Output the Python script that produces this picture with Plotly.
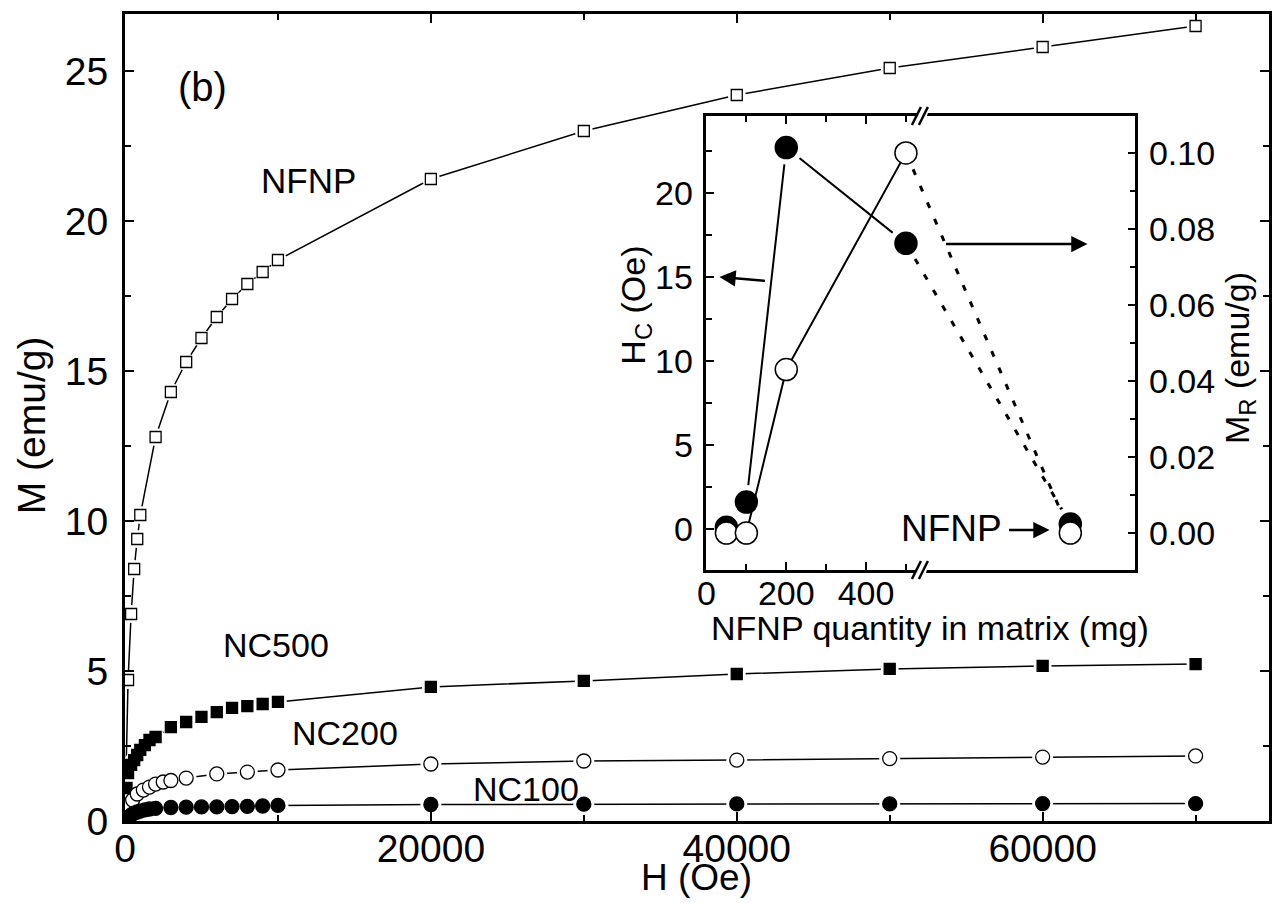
import plotly.graph_objects as go

# ---------------- data ----------------
nfnp_H = [0, 200, 400, 600, 800, 1000, 2000, 3000, 4000, 5000, 6000, 7000, 8000, 9000, 10000,
          20000, 30000, 40000, 50000, 60000, 70000]
nfnp_M = [0, 4.7, 6.9, 8.4, 9.4, 10.2, 12.8, 14.3, 15.3, 16.1, 16.8, 17.4, 17.9, 18.3, 18.7,
          21.4, 23.0, 24.2, 25.1, 25.8, 26.5]

nc500_H = [0, 100, 200, 400, 600, 800, 1000, 1300, 1600, 2000, 3000, 4000, 5000, 6000, 7000,
           8000, 9000, 10000, 20000, 30000, 40000, 50000, 60000, 70000]
nc500_M = [0, 1.1, 1.6, 1.87, 2.03, 2.2, 2.37, 2.53, 2.7, 2.8, 3.13, 3.3, 3.47, 3.63, 3.77,
           3.83, 3.9, 3.97, 4.47, 4.67, 4.9, 5.07, 5.17, 5.23]

nc200_H = [0, 200, 500, 800, 1200, 1600, 2000, 2500, 3000, 4000, 6000, 8000, 10000,
           20000, 30000, 40000, 50000, 60000, 70000]
nc200_M = [0, 0.55, 0.7, 0.9, 1.03, 1.13, 1.23, 1.3, 1.35, 1.43, 1.57, 1.63, 1.7,
           1.9, 2.0, 2.03, 2.08, 2.13, 2.17]

nc100_H = [0, 200, 400, 600, 800, 1000, 1300, 1600, 2000, 3000, 4000, 5000, 6000, 7000, 8000,
           9000, 10000, 20000, 30000, 40000, 50000, 60000, 70000]
nc100_M = [0, 0.12, 0.2, 0.26, 0.3, 0.33, 0.37, 0.4, 0.42, 0.45, 0.46, 0.47, 0.47, 0.48, 0.49,
           0.5, 0.52, 0.55, 0.56, 0.57, 0.57, 0.58, 0.58]

# inset: coercivity and remanence vs NFNP quantity in matrix (mg)
inset_qty = [50, 100, 200, 500]
nfnp_axis_pos = 912          # where the pure NFNP sample sits beyond the axis break
inset_hc = [0.1, 1.6, 22.7, 17.0, 0.3]      # Oe  (last value: NFNP)
inset_mr = [0.0, 0.0, 0.043, 0.100, 0.0]    # emu/g (last value: NFNP)

main_xticks = [0, 20000, 40000, 60000]
inset_xticks = [0, 200, 400]

# ---------------- geometry helpers ----------------
W, H = 1277, 903
L, R, T, B = 125, 5, 14, 82
PW, PH = W - L - R, H - T - B


def px(x):
    return (x - L) / PW


def py(y):
    return (H - B - y) / PH


FONT = "Liberation Sans, Arial, Helvetica, sans-serif"
fig = go.Figure()

main_series = [
    (nfnp_H, nfnp_M, "square-open", 11, "NFNP"),
    (nc500_H, nc500_M, "square", 11, "NC500"),
    (nc200_H, nc200_M, "circle-open", 14, "NC200"),
    (nc100_H, nc100_M, "circle", 14, "NC100"),
]

# lines
for hx, my, sym, sz, name in main_series:
    fig.add_trace(go.Scatter(x=hx, y=my, mode="lines", line=dict(color="black", width=1.5),
                             hoverinfo="skip", name=name))
# white halos (gap between line and marker)
for hx, my, sym, sz, name in main_series:
    fig.add_trace(go.Scatter(x=hx, y=my, mode="markers",
                             marker=dict(symbol="circle", size=sz + 7, color="white",
                                         line=dict(width=0)),
                             hoverinfo="skip"))
# markers
for hx, my, sym, sz, name in main_series:
    fig.add_trace(go.Scatter(x=hx, y=my, mode="markers", name=name,
                             marker=dict(symbol=sym.replace("-open", ""), size=sz,
                                         color="white" if "open" in sym else "black",
                                         line=dict(color="black", width=1.3))))

# ---------------- inset ----------------
inset_x = inset_qty + [nfnp_axis_pos]
n = len(inset_qty)

# H_C (filled circles, left axis)
fig.add_trace(go.Scatter(x=inset_x[:n], y=inset_hc[:n], mode="lines", xaxis="x2", yaxis="y2",
                         line=dict(color="black", width=2)))
fig.add_trace(go.Scatter(x=inset_x[n - 1:], y=inset_hc[n - 1:], mode="lines", xaxis="x2", yaxis="y2",
                         line=dict(color="black", width=3, dash="6px,12px")))
fig.add_trace(go.Scatter(x=inset_x, y=inset_hc, mode="markers", xaxis="x2", yaxis="y2",
                         marker=dict(symbol="circle", size=34, color="white", line=dict(width=0)),
                         hoverinfo="skip"))
fig.add_trace(go.Scatter(x=inset_x, y=inset_hc, mode="markers", xaxis="x2", yaxis="y2",
                         marker=dict(symbol="circle", size=22, color="black",
                                     line=dict(color="black", width=1.5))))

# M_R (open circles, right axis)
fig.add_trace(go.Scatter(x=inset_x[:n], y=inset_mr[:n], mode="lines", xaxis="x2", yaxis="y3",
                         line=dict(color="black", width=2)))
fig.add_trace(go.Scatter(x=inset_x[n - 1:], y=inset_mr[n - 1:], mode="lines", xaxis="x2", yaxis="y3",
                         line=dict(color="black", width=3, dash="6px,12px")))
fig.add_trace(go.Scatter(x=inset_x, y=inset_mr, mode="markers", xaxis="x2", yaxis="y3",
                         marker=dict(symbol="circle", size=22, color="white",
                                     line=dict(color="black", width=1.5))))

axis_common = dict(showgrid=False, zeroline=False, showline=True, linecolor="black",
                   ticks="inside", tickcolor="black")

fig.update_layout(
    width=W, height=H,
    margin=dict(l=L, r=R, t=T, b=B),
    paper_bgcolor="white", plot_bgcolor="white",
    showlegend=False,
    font=dict(family=FONT, color="black"),
    xaxis=dict(**axis_common, range=[0, 74800], tickvals=main_xticks, tickformat="d",
               ticklen=9, tickwidth=2, linewidth=3, mirror="ticks",
               minor=dict(dtick=10000, tick0=0, ticks="inside", ticklen=6, tickwidth=2),
               tickfont=dict(size=39, family=FONT), ticklabelstandoff=-9),
    yaxis=dict(**axis_common, range=[0, 26.9], dtick=5, tick0=0,
               ticklen=9, tickwidth=2, linewidth=3, mirror="ticks",
               minor=dict(dtick=2.5, tick0=0, ticks="inside", ticklen=6, tickwidth=2),
               tickfont=dict(size=39, family=FONT), ticklabelstandoff=6),
    xaxis2=dict(**axis_common, domain=[px(708), px(1138)], anchor="y2", range=[0, 1075],
                tickvals=inset_xticks, ticklen=8, tickwidth=2, linewidth=2.5, mirror="ticks",
                minor=dict(tickvals=[100, 300, 500], ticks="inside", ticklen=6, tickwidth=2),
                tickfont=dict(size=34, family=FONT), ticklabelstandoff=-9),
    yaxis2=dict(**axis_common, domain=[py(570), py(116)], anchor="x2", range=[-2.44, 24.58],
                dtick=5, tick0=0, ticklen=8, tickwidth=2, linewidth=2.5,
                minor=dict(dtick=2.5, tick0=0, ticks="inside", ticklen=6, tickwidth=2),
                tickfont=dict(size=34, family=FONT), ticklabelstandoff=4),
    yaxis3=dict(**axis_common, overlaying="y2", side="right", anchor="x2",
                range=[-0.0097, 0.1097], dtick=0.02, tick0=0, tickformat=".2f",
                ticklen=8, tickwidth=2, linewidth=2.5,
                minor=dict(dtick=0.01, tick0=0, ticks="inside", ticklen=6, tickwidth=2),
                tickfont=dict(size=34, family=FONT), ticklabelstandoff=4),
)

# ---------------- texts ----------------
def label(text, x, y, size, angle=0):
    fig.add_annotation(text=text, x=px(x), y=py(y), xref="paper", yref="paper",
                       showarrow=False, textangle=angle, xanchor="center", yanchor="middle",
                       font=dict(size=size, family=FONT, color="black"))


label("H (Oe)", 698, 878, 37)
label("M (emu/g)", 31, 425, 39, -90)
label("(b)", 203, 87, 40)
label("NFNP", 309, 180, 35)
label("NC500", 276, 645, 34)
label("NC200", 346, 733, 34)
label("NC100", 527, 789, 34)
label("NFNP quantity in matrix (mg)", 932, 628, 34)
label("H<sub>C</sub> (Oe)", 636, 305, 34, -90)
label("M<sub>R</sub> (emu/g)", 1242, 358, 34, -90)
label("NFNP", 954, 528, 37)


def arrow(hx, hy, tx, ty):
    fig.add_annotation(text="", x=px(hx), y=py(hy), xref="paper", yref="paper",
                       ax=tx - hx, ay=ty - hy, axref="pixel", ayref="pixel",
                       showarrow=True, arrowhead=2, arrowsize=1.3, arrowwidth=2.5,
                       arrowcolor="black", standoff=0, startstandoff=0)


arrow(721, 277, 768, 281)
arrow(1090, 244, 947, 244)
arrow(1052, 530, 1010, 530)

# ---------------- axis-break marks on the inset x axis ----------------
for yb in (116, 570):
    # white gap in the axis line
    fig.add_shape(type="path", xref="paper", yref="paper",
                  path=f"M {px(917)},{py(yb + 6)} L {px(927)},{py(yb + 6)} "
                       f"L {px(931)},{py(yb - 6)} L {px(921)},{py(yb - 6)} Z",
                  fillcolor="white", line=dict(width=0))
    for x0 in (914, 921):
        fig.add_shape(type="line", xref="paper", yref="paper",
                      x0=px(x0), y0=py(yb + 9), x1=px(x0 + 9), y1=py(yb - 9),
                      line=dict(color="black", width=2.5))

fig.write_html("out.html")
